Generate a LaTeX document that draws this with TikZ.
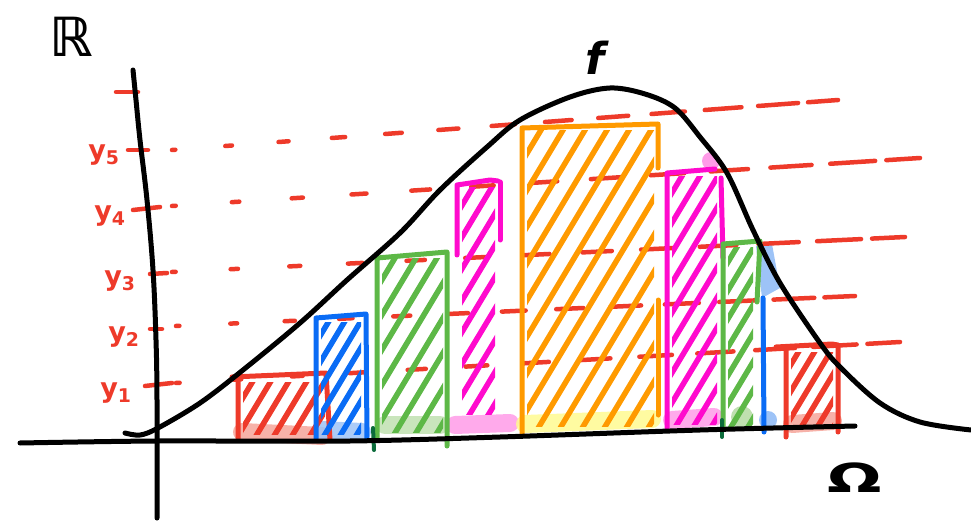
\documentclass[tikz,border=0pt]{standalone}
\usepackage{fontspec}
\setmainfont{DejaVu Sans}
\usetikzlibrary{calc}
\definecolor{redc}{HTML}{EE3A2A}
\definecolor{bluec}{HTML}{0A6CF5}
\definecolor{greenc}{HTML}{5DB847}
\definecolor{magc}{HTML}{FF0ACD}
\definecolor{orc}{HTML}{FF9A00}
\definecolor{palered}{HTML}{F6A59A}
\definecolor{paleblue}{HTML}{9DC3F7}
\definecolor{palegreen}{HTML}{BFE0B0}
\definecolor{palepink}{HTML}{FF9BE8}
\definecolor{paleyellow}{HTML}{FFFA90}
\definecolor{dkgreen}{HTML}{0B6B3A}
\newcommand\hatchbox[6]{%
  \begin{scope}
    \clip (#1+5,#2+6) rectangle (#3-5,#4-6);
    \pgfmathsetmacro\hstart{#1-0.6*(#4-#2)}
    \pgfmathsetmacro\hnext{\hstart+#6}
    \foreach \xx in {\hstart,\hnext,...,#3}
      \draw[#5,line width=5.5] (\xx,#4) -- ++({0.6*(#4-#2)},{#2-#4});
  \end{scope}}
\newcommand\dashline[2]{%
  \foreach \a/\b in {0/0.005,0.08/0.09,0.16/0.175,0.24/0.26,0.32/0.345,0.40/0.43,0.48/0.515,0.56/0.60,0.64/0.685,0.72/0.77,0.80/0.855,0.88/0.94,0.955/1}
    \draw[redc,line width=4.5] ($(#1)!\a!(#2)$) -- ($(#1)!\b!(#2)$);}
\tikzset{
  axisline/.style={black,line width=5},
  outline/.style={line width=5},
  base/.style={line width=18, opacity=0.85},
  ylab/.style={text=redc, inner sep=0, font=\fontsize{27}{27}\selectfont\bfseries},
  biglab/.style={inner sep=0, font=\fontsize{44}{44}\selectfont\bfseries},
  tick/.style={redc,line width=4.5}
}
\begin{document}
\begin{tikzpicture}[x=1pt,y=-1pt,line cap=round,line join=round]
\useasboundingbox (0,0) rectangle (971,521);
% pale bases
\draw[base,palered] (242,432) -- (322,436);
\draw[base,paleblue] (322,430) -- (362,432);
\draw[base,palegreen] (385,425) -- (440,425);
\draw[base,palepink] (455,425) -- (510,423);
\draw[base,paleyellow] (525,424) -- (652,419);
\draw[base,palepink] (672,420) -- (714,417);
\fill[palegreen] (742,417) circle (11);
\fill[paleblue] (768,420) circle (9);
\draw[base,palered] (792,424) -- (833,421);
\fill[palepink] (711,161) circle (9);
\fill[paleblue] (756,246) -- (772,244) -- (780,288) -- (762,298) -- cycle;
% dashed level lines
\coordinate (L5a) at (172,150); \coordinate (L5b) at (838,100);
\coordinate (L4a) at (172,206); \coordinate (L4b) at (920,158);
\coordinate (L3a) at (172,272); \coordinate (L3b) at (905,237);
\coordinate (L2a) at (176,326); \coordinate (L2b) at (855,296);
\coordinate (L1a) at (176,383); \coordinate (L1b) at (900,342);
\dashline{L5a}{L5b}
\dashline{L4a}{L4b}
\dashline{L3a}{L3b}
\dashline{L2a}{L2b}
\dashline{L1a}{L1b}
% ticks
\draw[tick] (116,92) -- (138,92);
\draw[tick] (128,150) -- (148,150);
\draw[tick] (133,210) -- (160,207);
\draw[tick] (150,274) -- (167,273);
\draw[tick] (150,329) -- (162,329);
\draw[tick] (145,386) -- (172,383);
% labels
\node[ylab] (y5) at (104,155) {y\textsubscript{5}};
\node[ylab] (y4) at (110,216) {y\textsubscript{4}};
\node[ylab] (y3) at (120,281) {y\textsubscript{3}};
\node[ylab] (y2) at (124,337) {y\textsubscript{2}};
\node[ylab] (y1) at (116,393) {y\textsubscript{1}};
% bars
\hatchbox{238}{376}{330}{440}{redc}{18}
\draw[outline,redc] (238,440) -- (238,378) -- (232,377) -- (326,373) -- (330,440);
\hatchbox{316}{316}{366}{440}{bluec}{16}
\draw[outline,bluec] (316,440) -- (316,318) -- (366,314) -- (367,440);
\hatchbox{377}{253}{448}{438}{greenc}{21}
\draw[outline,greenc] (377,438) -- (377,258) -- (447,252) -- (447,446);
\hatchbox{457}{182}{500}{420}{magc}{19}
\draw[outline,magc] (457,255) -- (457,185) -- (490,180) -- (498,181);
\draw[outline,magc] (500,182) -- (500,240);
\hatchbox{522}{125}{659}{432}{orc}{22}
\draw[outline,orc] (522,436) -- (522,128) -- (658,124) -- (658,168);
\draw[outline,orc] (658,300) -- (658,415);
\hatchbox{667}{171}{722}{430}{magc}{18}
\draw[outline,magc] (667,428) -- (667,173) -- (715,169);
\draw[outline,magc] (721,178) -- (723,258);
\hatchbox{723}{242}{758}{432}{greenc}{17}
\draw[outline,greenc] (723,430) -- (723,244) -- (760,241) -- (757,302);
\draw[outline,bluec] (763,298) -- (764,432);
\hatchbox{786}{346}{838}{434}{redc}{16}
\draw[outline,redc] (786,437) -- (786,348) -- (776,347) -- (832,344) -- (838,345) -- (838,432);
\draw[dkgreen,line width=4] (373,428) -- (374,450);
\draw[dkgreen,line width=4] (722,420) -- (722,437);
% axes
\draw[axisline] plot[smooth,tension=0.6] coordinates {(133,70) (136,100) (140,140) (147,200) (153,270) (156,340) (157,400) (157,518)};
\draw[axisline] plot[smooth,tension=0.5] coordinates {(20,443) (157,441) (350,441) (500,437) (700,430) (855,426)};
% curve f
\draw[axisline] plot[smooth,tension=0.55] coordinates {(125,433) (140,435) (158,428) (200,403) (243,370) (300,323) (347,280) (400,233) (440,190) (487,147) (520,120) (570,97) (610,88) (645,94) (675,108) (700,137) (727,173) (753,230) (780,283) (820,343) (840,367) (880,403) (920,422) (971,430)};
% text
\node[biglab,font=\fontsize{54}{54}\selectfont\bfseries] (R) at (71,37) {ℝ};
\node[biglab] (f) at (595,58) {\itshape f};
\node[biglab,font=\fontsize{40}{40}\selectfont\bfseries,xscale=1.6] (Om) at (855,478) {Ω};
\end{tikzpicture}
\end{document}
